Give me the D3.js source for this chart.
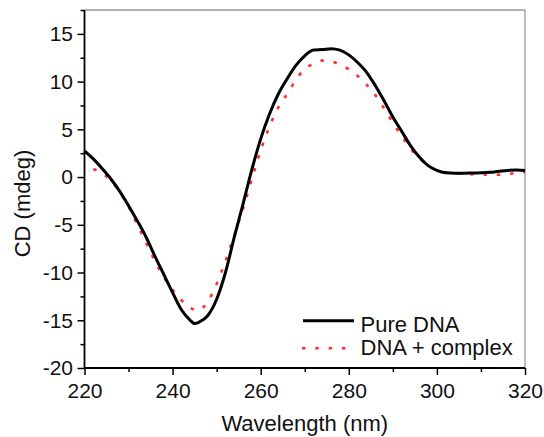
<!DOCTYPE html>
<html>
<head>
<meta charset="utf-8">
<script src="https://cdn.jsdelivr.net/npm/d3@7"></script>
<style>
  html, body { margin: 0; padding: 0; background: #fff; }
  svg { display: block; font-family: "Liberation Sans", Arial, sans-serif; }
</style>
</head>
<body>
<svg id="chart" width="544" height="437"></svg>
<script>
// Wavelength (nm) and CD (mdeg) values
const pureWavelength = [220,222,224,226,228,230,232,234,236,238,240,242,244,245,246,248,250,252,254,256,258,260,262,264,266,268,270,272,274,276,278,280,282,284,286,288,290,292,294,296,298,300,302,304,306,308,310,312,314,316,318,320];
const pureDNA = [2.75,1.9,0.9,-0.2,-1.5,-3.0,-4.6,-6.3,-8.3,-10.2,-12.1,-13.9,-15.0,-15.35,-15.2,-14.5,-12.8,-10.0,-6.3,-2.8,0.8,4.0,6.6,8.7,10.3,11.7,12.7,13.3,13.35,13.45,13.3,12.8,12.0,11.0,9.6,8.0,6.3,4.8,3.3,2.1,1.2,0.7,0.45,0.4,0.4,0.42,0.45,0.5,0.6,0.7,0.75,0.7];
const complexWavelength = [222,224,226,228,230,232,234,236,238,240,242,244,246,248,250,252,254,256,258,260,262,264,266,268,270,272,274,276,278,280,282,284,286,288,290,292,294,296,298,300,302,304,306,308,310,312,314,316,318,320];
const dnaComplex = [0.85,0.4,-0.4,-1.6,-3.1,-5.0,-6.9,-8.8,-10.5,-11.8,-12.9,-13.7,-13.95,-13.0,-11.2,-8.8,-6.1,-3.3,-0.2,2.8,5.3,7.3,8.7,10.2,11.3,11.9,12.2,12.1,11.8,11.3,10.6,9.7,8.6,7.2,5.7,4.3,3.0,2.0,1.2,0.7,0.5,0.4,0.35,0.3,0.28,0.25,0.25,0.3,0.45,0.5];
const xTicks = [220,240,260,280,300,320];
const yTicks = [-20,-15,-10,-5,0,5,10,15];
const seriesNames = ["Pure DNA", "DNA + complex"];

const svg = d3.select("#chart");
const mLeft = 84.5, mRight = 525, mTop = 10, mBottom = 368;

const x = d3.scaleLinear().domain([220, 320]).range([mLeft, mRight]);
const y = d3.scaleLinear().domain([-20, 17.5]).range([mBottom, mTop]);

// frame top/right in gray
svg.append("line").attr("x1", mLeft).attr("x2", mRight).attr("y1", mTop).attr("y2", mTop)
  .attr("stroke", "#999").attr("stroke-width", 1.3);
svg.append("line").attr("x1", mRight).attr("x2", mRight).attr("y1", mTop).attr("y2", mBottom)
  .attr("stroke", "#999").attr("stroke-width", 1.3);

const fontSize = 21;
const titleSize = 22;
const fmt = d => String(d);

// X axis
const xAxis = svg.append("g").attr("transform", `translate(0,${mBottom})`)
  .call(d3.axisBottom(x).tickValues(xTicks).tickSize(7).tickPadding(8).tickFormat(fmt));
svg.append("g").attr("transform", `translate(0,${mBottom})`)
  .call(d3.axisBottom(x).tickValues(d3.range(230, 320, 20)).tickSize(4).tickFormat(""))
  .call(g => g.select(".domain").remove());

// Y axis
const yAxis = svg.append("g").attr("transform", `translate(${mLeft},0)`)
  .call(d3.axisLeft(y).tickValues(yTicks).tickSize(7).tickPadding(4.5).tickFormat(fmt));
svg.append("g").attr("transform", `translate(${mLeft},0)`)
  .call(d3.axisLeft(y).tickValues(d3.range(-17.5, 18, 5)).tickSize(4).tickFormat(""))
  .call(g => g.select(".domain").remove());

svg.selectAll(".tick line").attr("stroke", "#000").attr("stroke-width", 1.5);
svg.selectAll(".domain").attr("stroke", "#000").attr("stroke-width", 1.8);
svg.selectAll(".tick text").attr("font-size", fontSize).attr("fill", "#111")
  .attr("font-family", "'Liberation Sans', Arial, sans-serif");
xAxis.selectAll(".domain").attr("d", `M${mLeft},0H${mRight}`);
yAxis.selectAll(".domain").attr("d", `M0,${mBottom}V${mTop}`);

// Axis titles
svg.append("text").attr("x", (mLeft + mRight) / 2).attr("y", 431)
  .attr("text-anchor", "middle").attr("font-size", titleSize).attr("fill", "#111")
  .text("Wavelength (nm)");
svg.append("text").attr("transform", `translate(29.5,203.5) rotate(-90)`)
  .attr("text-anchor", "middle").attr("font-size", titleSize).attr("fill", "#111")
  .text("CD (mdeg)");

// Lines
const line = d3.line().curve(d3.curveMonotoneX);
const purePts = pureWavelength.map((w, i) => [x(w), y(pureDNA[i])]);
const compPts = complexWavelength.map((w, i) => [x(w), y(dnaComplex[i])]);

svg.append("path").attr("d", line(compPts)).attr("fill", "none")
  .attr("stroke", "#ff3030").attr("stroke-width", 2.6)
  .attr("stroke-dasharray", "3.5,9.8").attr("stroke-linecap", "butt");
svg.append("path").attr("d", line(purePts)).attr("fill", "none")
  .attr("stroke", "#000").attr("stroke-width", 3);

// Legend
const legend = svg.append("g");
legend.append("line").attr("x1", 303).attr("x2", 354).attr("y1", 320.7).attr("y2", 320.7)
  .attr("stroke", "#000").attr("stroke-width", 3);
legend.append("line").attr("x1", 302).attr("x2", 354).attr("y1", 348.3).attr("y2", 348.3)
  .attr("stroke", "#ff3030").attr("stroke-width", 2.6).attr("stroke-dasharray", "3.5,9.8");
legend.append("text").attr("x", 360.5).attr("y", 331.5).attr("font-size", titleSize).attr("fill", "#111")
  .text(seriesNames[0]);
legend.append("text").attr("x", 360.5).attr("y", 354.5).attr("font-size", titleSize).attr("fill", "#111")
  .text(seriesNames[1]);
</script>
</body>
</html>
